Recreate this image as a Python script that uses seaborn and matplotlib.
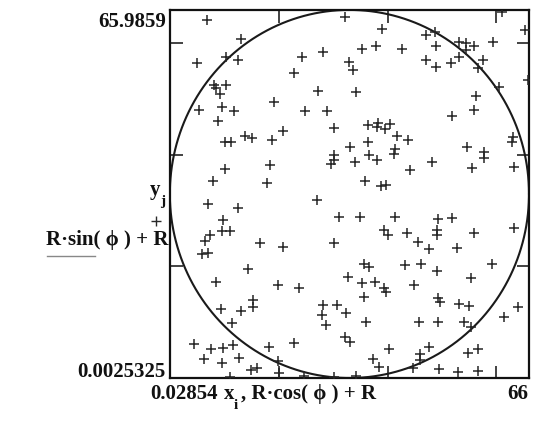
import numpy as np
import pandas as pd
import seaborn as sns
import matplotlib.pyplot as plt

# raio do círculo (R·cos(ϕ)+R, R·sin(ϕ)+R)
R = 33

# pontos (x_i, y_j)
x_i = [6.78, 13.07, 4.95, 10.32, 12.47, 24.25, 22.73, 8.19, 8.49, 10.32, 9.22, 19.19,
       32.21, 38.99, 28.23, 35.33, 37.89, 42.59, 32.87, 33.73, 27.19, 34.23,
       61.05, 65.32, 47.12, 48.64, 48.95, 53.22, 54.45, 54.45, 55.97, 59.34, 46.99, 48.95,
       51.70, 53.22, 57.51, 56.59, 60.55, 56.28, 65.76,
       5.44, 9.59, 11.86, 8.80, 20.84, 10.14, 11.24, 13.88, 15.09, 18.75, 18.46, 10.21, 7.88, 17.78,
       24.75, 28.91, 30.25, 36.48, 38.32, 38.08, 39.54, 40.52, 41.74, 43.82, 36.48, 33.13, 41.38,
       41.12, 30.12, 30.12, 29.64, 36.54, 34.04, 38.08, 44.18, 35.93, 38.81, 39.73,
       51.88, 55.86, 63.01, 62.83, 54.63, 57.80, 57.80, 48.22, 55.55, 63.19,
       7.09, 12.59, 9.72, 9.59, 11.05, 7.39, 6.54, 5.92, 6.97, 16.63, 20.84, 14.30, 8.49, 19.80, 23.78,
       27.08, 31.17, 34.96, 41.38, 39.42, 40.15, 43.50, 45.56, 30.25, 35.75, 36.67, 43.21, 32.69,
       35.25, 37.71, 39.42, 39.78, 44.92,
       49.26, 51.83, 49.08, 49.08, 55.97, 63.19, 47.61, 52.80, 46.20, 49.13, 59.16, 55.37,
       15.22, 15.22, 9.40, 13.07, 11.42, 4.53, 7.57, 9.84, 11.68, 18.15, 22.86, 6.36, 9.59, 12.78,
       19.80, 14.90, 15.95, 20.11, 11.05, 24.69,
       35.62, 28.10, 30.67, 27.99, 32.39, 28.73, 36.06, 32.27, 33.18, 40.20, 37.27, 38.50, 44.60,
       30.25, 34.23,
       49.26, 49.68, 53.11, 54.94, 63.93, 61.47, 45.74, 49.26, 54.03, 55.37, 47.61, 45.89, 46.02,
       54.76, 56.70, 49.44, 53.04, 56.70]
y_j = [64.26, 60.80, 56.50, 57.57, 56.98, 57.52, 54.70, 52.50, 52.01, 52.55, 50.99, 49.45,
       64.74, 62.59, 58.52, 58.95, 59.49, 58.95, 56.67, 55.29, 51.53, 51.24,
       65.64, 62.47, 61.57, 62.06, 59.49, 60.21, 60.08, 58.88, 59.49, 60.21, 56.98, 55.78,
       56.50, 57.57, 56.98, 55.60, 52.19, 50.63, 53.50,
       48.01, 48.60, 47.89, 46.09, 44.25, 42.33, 42.33, 43.35, 43.04, 42.74, 38.15, 37.54, 35.33, 35.03,
       47.83, 47.89, 44.84, 45.32, 45.79, 45.02, 44.71, 45.61, 43.35, 42.63, 42.33, 41.43, 41.12,
       40.23, 39.94, 39.04, 38.43, 39.94, 38.74, 39.04, 37.36, 35.28, 34.44, 34.67,
       46.99, 48.01, 43.22, 42.33, 41.43, 40.53, 39.46, 38.74, 37.66, 37.84,
       31.15, 30.54, 28.34, 26.36, 26.36, 25.59, 24.57, 22.19, 22.47, 24.27, 23.55, 19.50, 17.27, 16.63, 16.20,
       31.87, 28.93, 28.93, 28.93, 26.54, 25.65, 25.95, 24.39, 24.16, 20.39, 19.96, 20.27, 18.11,
       16.98, 17.22, 16.09, 15.51, 16.63,
       28.46, 28.64, 26.54, 25.65, 26.06, 26.96, 23.08, 23.26, 20.39, 19.19, 20.39, 17.99,
       13.99, 12.68, 12.38, 12.07, 9.81, 6.10, 5.15, 5.33, 5.92, 5.61, 6.22, 3.35, 2.64, 3.53,
       3.10, 1.43, 1.74, 0.84, 0.13, 0.36,
       14.58, 13.09, 13.09, 11.30, 11.60, 9.51, 9.99, 7.41, 6.40, 5.20, 3.41, 2.03, 1.74,
       0.13, 0.36,
       14.29, 13.68, 13.22, 12.97, 12.79, 10.89, 9.99, 9.99, 9.99, 9.20, 5.61, 4.30, 3.23,
       4.54, 5.20, 1.61, 1.13, 1.31]

x_min, x_max = 0.02854, 66
y_min, y_max = 0.0025325, 65.9859
ticks = [20, 40, 60]

W, H = 535, 425
fig = plt.figure(figsize=(W / 100, H / 100), dpi=100)
ax = fig.add_axes([170 / W, 1 - 378 / H, 359 / W, 368 / H])

df = pd.DataFrame({'x': x_i, 'y': y_j})
sns.scatterplot(data=df, x='x', y='y', marker='+', s=55, color='#262626',
                linewidth=1.1, ax=ax, zorder=3)

# círculo
phi = np.linspace(0, 2 * np.pi, 400)
circ = pd.DataFrame({'cx': R * np.cos(phi) + R, 'cy': R * np.sin(phi) + R})
sns.lineplot(data=circ, x='cx', y='cy', sort=False, color='#1a1a1a', lw=1.5,
             ax=ax, estimator=None)

ax.set_xlim(x_min, x_max)
ax.set_ylim(y_min, y_max)
ax.set_xticks(ticks)
ax.set_yticks(ticks)
ax.tick_params(direction='in', length=9, width=1.2, top=True, right=True,
               labelbottom=False, labelleft=False, color='#222')
ax.set_xlabel('')
ax.set_ylabel('')
for s in ax.spines.values():
    s.set_linewidth(1.6)
    s.set_color('#111')

fonte = dict(family=['Liberation Serif', 'DejaVu Serif'], weight='bold', color='#111')


def txt(x, y, s, size=15, ha='left'):
    fig.text(x / W, 1 - y / H, s, ha=ha, va='baseline', fontsize=size, **fonte)


# limites dos eixos
txt(166, 27, '65.9859', ha='right')
txt(165, 377, '0.0025325', ha='right')
txt(150, 399, '0.02854')
txt(528, 399, '66', ha='right')

# rótulo do eixo x
txt(224, 399, 'x')
txt(234, 409, 'i', size=11)
txt(241, 399, ', R·cos( ϕ ) + R')

# rótulo do eixo y / legenda
txt(150, 195, 'y')
txt(160, 205, 'j', size=11)
fig.add_artist(plt.Line2D([156 / W], [1 - 221 / H], marker='+', markersize=7,
                          mew=1.0, color='#2a2a2a', transform=fig.transFigure))
txt(168, 245, 'R·sin( ϕ ) + R', ha='right')
fig.add_artist(plt.Line2D([47 / W, 95 / W], [1 - 256 / H] * 2, lw=1.0,
                          color='#888', transform=fig.transFigure))

fig.savefig('out.png', dpi=100)
